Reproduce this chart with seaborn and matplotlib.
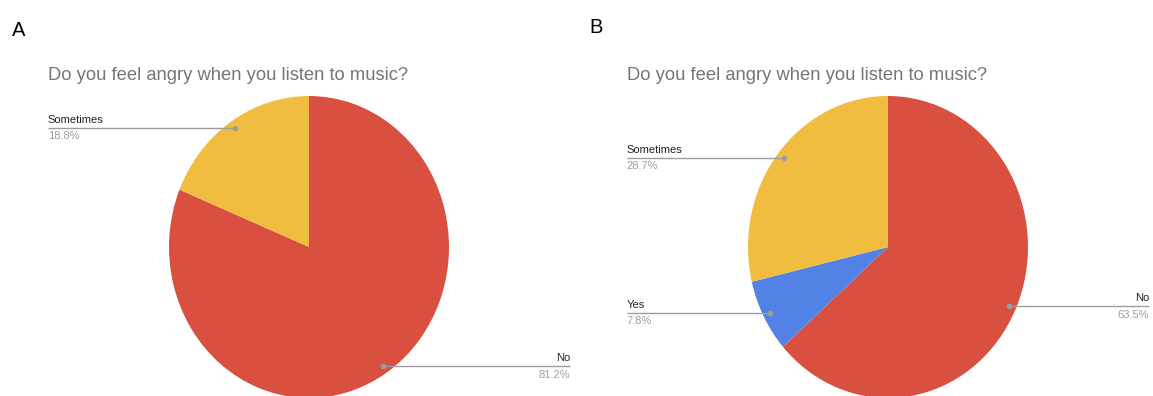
import numpy as np
import matplotlib
matplotlib.use("Agg")
import matplotlib.pyplot as plt
import seaborn as sns

# ---- data ----
title = "Do you feel angry when you listen to music?"
labels_a = ["No", "Sometimes"]
values_a = [81.2, 18.8]
labels_b = ["No", "Yes", "Sometimes"]
values_b = [63.5, 7.8, 28.7]
panel_letters = ["A", "B"]

sns.set_theme(style="white")
plt.rcParams['font.family'] = ['Liberation Sans', 'DejaVu Sans']

color_map = {"No": "#D95040", "Sometimes": "#F0BD41", "Yes": "#5282E6"}

W, H = 1153, 396
fig = plt.figure(figsize=(W / 100, H / 100), dpi=100)

def px_axes(cx, cy, rx, ry):
    # cx, cy in pixels from top-left
    left = (cx - rx) / W
    bottom = (H - cy - ry) / H
    return fig.add_axes([left, bottom, 2 * rx / W, 2 * ry / H])

def draw_pie(ax, labels, values):
    cols = sns.color_palette([color_map[l] for l in labels])
    wedges, _ = ax.pie(values, colors=cols, startangle=90, counterclock=False,
                       radius=1, wedgeprops=dict(linewidth=0))
    ax.set_aspect('auto')
    ax.set_xlim(-1, 1)
    ax.set_ylim(-1, 1)
    ax.axis('off')
    for w, lab, val in zip(wedges, labels, values):
        ang = np.deg2rad((w.theta1 + w.theta2) / 2)
        x0, y0 = 0.95 * np.cos(ang), 0.95 * np.sin(ang)
        xe = 1.866 if np.cos(ang) > 0 else -1.866
        ax.plot([x0, xe], [y0, y0], color="#9E9E9E", lw=1.0, clip_on=False,
                solid_capstyle='butt')
        ax.plot([x0], [y0], marker='o', ms=3, color="#9E9E9E", clip_on=False)
        ha = 'right' if xe > 0 else 'left'
        ax.annotate(lab, xy=(xe, y0), xytext=(0, 2.2), textcoords='offset points',
                    ha=ha, va='bottom', fontsize=8, color="#222222",
                    annotation_clip=False)
        ax.annotate(f"{val:.1f}%", xy=(xe, y0), xytext=(0, -2.5),
                    textcoords='offset points', ha=ha, va='top', fontsize=8,
                    color="#9E9E9E", annotation_clip=False)

ax_a = px_axes(309, 247, 140, 151)
draw_pie(ax_a, labels_a, values_a)
ax_b = px_axes(888, 247, 140, 151)
draw_pie(ax_b, labels_b, values_b)

# titles
fig.text(48 / W, 1 - 80 / H, title, fontsize=13.2, color="#757575",
         ha='left', va='baseline')
fig.text(627 / W, 1 - 80 / H, title, fontsize=13.2, color="#757575",
         ha='left', va='baseline')

# panel letters
fig.text(12 / W, 1 - 36 / H, panel_letters[0], fontsize=14.5, color="black",
         ha='left', va='baseline')
fig.text(589 / W, 1 - 33 / H, panel_letters[1], fontsize=14.5, color="black",
         ha='left', va='baseline')

fig.savefig("out.png", dpi=100, facecolor="white")
